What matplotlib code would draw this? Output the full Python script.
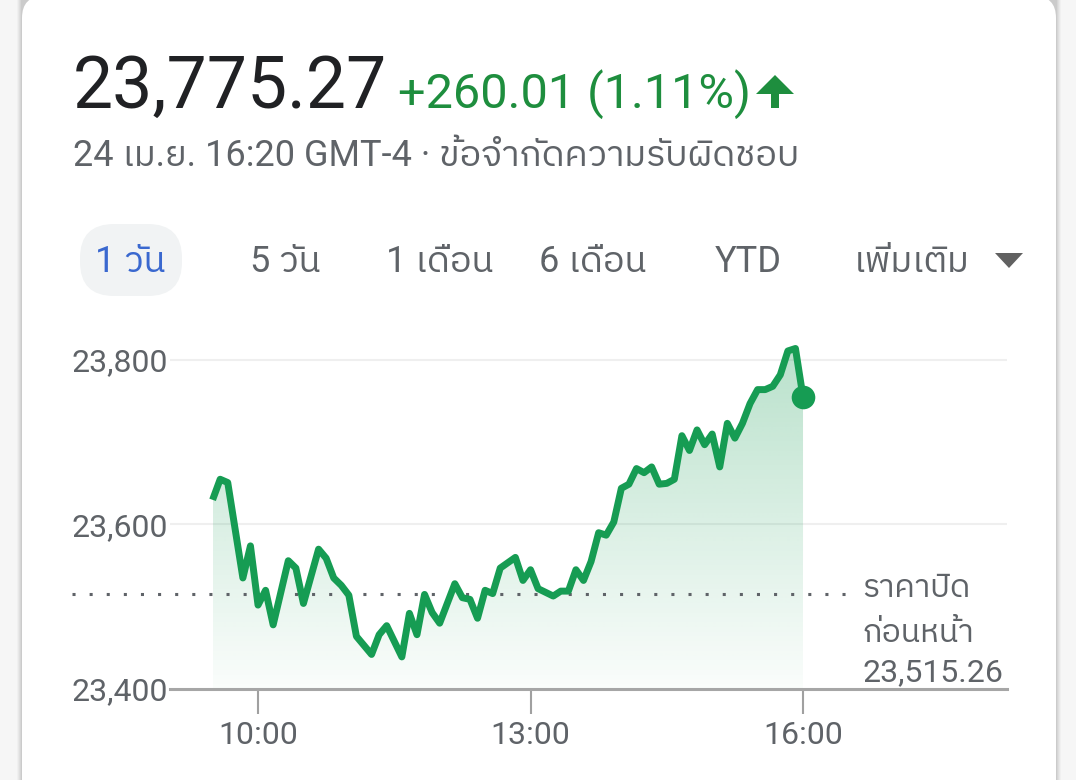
import numpy as np
import matplotlib
matplotlib.use("Agg")
import matplotlib.pyplot as plt
from matplotlib import font_manager
from matplotlib.ft2font import FT2Font
from matplotlib.patches import FancyBboxPatch, Polygon

# ---------------- data ----------------
times = ["09:30", "09:35", "09:40", "09:50", "09:55", "10:00", "10:05", "10:10",
         "10:20", "10:25", "10:30", "10:40", "10:45", "10:50", "10:55", "11:00",
         "11:05", "11:10", "11:15", "11:20", "11:25", "11:35", "11:40", "11:45",
         "11:50", "11:55", "12:00", "12:10", "12:15", "12:20", "12:25", "12:30",
         "12:35", "12:40", "12:50", "12:55", "13:00", "13:05", "13:15", "13:20",
         "13:25", "13:30", "13:35", "13:40", "13:45", "13:50", "13:55", "14:00",
         "14:05", "14:10", "14:15", "14:20", "14:25", "14:30", "14:35", "14:40",
         "14:45", "14:50", "14:55", "15:00", "15:05", "15:10", "15:15", "15:20",
         "15:25", "15:30", "15:35", "15:40", "15:45", "15:50", "15:55", "16:00"]
values = [23630, 23655, 23651, 23535, 23574, 23502, 23520, 23478,
          23556, 23547, 23504, 23570, 23559, 23535, 23526, 23514,
          23464, 23453, 23442, 23466, 23477, 23439, 23492, 23466,
          23515, 23493, 23480, 23528, 23511, 23509, 23486, 23520,
          23516, 23547, 23560, 23532, 23545, 23522, 23513, 23519,
          23519, 23545, 23532, 23555, 23590, 23587, 23603, 23644,
          23649, 23668, 23663, 23670, 23649, 23650, 23655, 23708,
          23690, 23715, 23697, 23710, 23670, 23723, 23705, 23723,
          23747, 23764, 23764, 23768, 23782, 23811, 23814, 23755]
prev_close = 23515.26

price_text = "23,775.27"
change_text = "+260.01 (1.11%)"
subtitle_text = "24 เม.ย. 16:20 GMT-4 · ข้อจำกัดความรับผิดชอบ"
tab_labels = ["1 วัน", "5 วัน", "1 เดือน", "6 เดือน", "YTD", "เพิ่มเติม"]
y_ticks = [23400, 23600, 23800]
y_tick_labels = ["23,400", "23,600", "23,800"]
x_tick_times = ["10:00", "13:00", "16:00"]
prev_label_lines = ["ราคาปิด", "ก่อนหน้า", "23,515.26"]

# ---------------- fonts ----------------
def thai_fonts():
    found = []
    for f in font_manager.fontManager.ttflist:
        try:
            ft = FT2Font(f.fname)
            if ft.get_char_index(0x0E01) and ft.get_char_index(0x0E34):
                if f.name not in found:
                    found.append(f.name)
        except Exception:
            pass
    found.sort(key=lambda n: (0 if "Thai" in n else 1, n))
    return found

FAMILY = ["Roboto"] + thai_fonts() + ["DejaVu Sans"]
plt.rcParams["font.family"] = FAMILY

GREEN_LINE = "#169c53"
GREEN_TEXT = "#1e8e3e"
GRAY_TEXT = "#5f6368"
DARK = "#202124"
BLUE = "#3a68cf"


def to_min(s):
    h, m = s.split(":")
    return int(h) * 60 + int(m) - 570


t = np.array([to_min(s) for s in times], dtype=float)
v = np.array(values, dtype=float)

W, H = 1076, 780
fig = plt.figure(figsize=(W / 100, H / 100), dpi=100)
fig.patch.set_facecolor("#f6f6f6")

# background pixel axes
bg = fig.add_axes([0, 0, 1, 1])
bg.set_xlim(0, W)
bg.set_ylim(H, 0)
bg.axis("off")

# card shadow + card
for i, a in enumerate([0.025, 0.03, 0.035, 0.04, 0.05]):
    g = 5 - i
    bg.add_patch(FancyBboxPatch((22 - g, -30), 1034 + 2 * g, 900,
                                boxstyle="round,pad=0,rounding_size=%d" % (22 + g),
                                fc="black", ec="none", alpha=a, zorder=0))
bg.add_patch(FancyBboxPatch((22, -4), 1034, 900,
                            boxstyle="round,pad=0,rounding_size=22",
                            fc="white", ec="none", zorder=1))

# header
bg.text(73, 108, price_text, fontsize=51.5, color=DARK, va="baseline", ha="left", zorder=3)
bg.text(398, 108, change_text, fontsize=35, color=GREEN_TEXT, va="baseline", ha="left", zorder=3)
bg.add_patch(Polygon([(756, 94), (775, 75), (794, 94), (779, 94), (779, 108),
                      (771, 108), (771, 94)], closed=True, fc=GREEN_TEXT, ec="none", zorder=3))
bg.text(73, 166, subtitle_text, fontsize=26, color=GRAY_TEXT, va="baseline", ha="left", zorder=3)

# tabs
bg.add_patch(FancyBboxPatch((80, 224), 102, 72, boxstyle="round,pad=0,rounding_size=34",
                            fc="#f1f3f4", ec="none", zorder=2))
tab_centers = [130, 285, 440, 593, 748, 912]
for i, (lab, cx) in enumerate(zip(tab_labels, tab_centers)):
    bg.text(cx, 272, lab, fontsize=26, color=BLUE if i == 0 else GRAY_TEXT,
            va="baseline", ha="center", zorder=3)
bg.add_patch(Polygon([(995, 253), (1023, 253), (1009, 268)], closed=True,
                     fc="#616161", ec="none", zorder=3))

# ---------------- chart axes ----------------
px_left, px_right, px_top, px_bot = 170, 1007, 330, 689
x0_px, min_px = 212.6, 272.5 / 180.0
y_px_per = 164.5 / 200.0
xlim = ((px_left - x0_px) / min_px, (px_right - x0_px) / min_px)
ylim = (23400, 23400 + (px_bot - px_top) / y_px_per)

ax = fig.add_axes([px_left / W, (H - px_bot) / H, (px_right - px_left) / W,
                   (px_bot - px_top) / H], zorder=5)
ax.set_facecolor("none")
ax.set_xlim(*xlim)
ax.set_ylim(*ylim)
for s in ax.spines.values():
    s.set_visible(False)

for yv in y_ticks[1:]:
    ax.axhline(yv, color="#efefef", lw=1.5, zorder=1)

# gradient fill under curve
poly_xy = np.vstack([np.column_stack([t, v]), [[t[-1], ylim[0]], [t[0], ylim[0]]]])
clip = Polygon(poly_xy, closed=True, fc="none", ec="none")
ax.add_patch(clip)
grad = np.linspace(0.02, 0.30, 256).reshape(-1, 1)
rgb = np.array(matplotlib.colors.to_rgb(GREEN_LINE))
img = np.zeros((256, 1, 4))
img[..., :3] = rgb
img[..., 3] = grad
im = ax.imshow(img, extent=[t[0], t[-1], ylim[0], v.max()], origin="lower",
               aspect="auto", interpolation="bilinear", zorder=2)
im.set_clip_path(clip)

# previous close dotted line
ax.axhline(prev_close, xmin=(72 - px_left) / (px_right - px_left),
           xmax=(852 - px_left) / (px_right - px_left), color="#5f6368",
           lw=2.2, dashes=(1, 4.6), clip_on=False, zorder=3)

# baseline
ax.axhline(ylim[0], color="#a6a6a6", lw=2.2, clip_on=False, zorder=4)

# price line and end dot
ax.plot(t, v, color=GREEN_LINE, lw=5.0, solid_joinstyle="round",
        solid_capstyle="butt", zorder=6)
ax.plot(t[-1], v[-1], "o", ms=17, color=GREEN_LINE, mec="none", zorder=7,
        clip_on=False)

# ticks
ax.set_xticks([to_min(s) for s in x_tick_times])
ax.set_xticklabels(x_tick_times)
ax.set_yticks(y_ticks)
ax.set_yticklabels(y_tick_labels)
ax.tick_params(axis="x", length=18, width=1.5, color="#a0a0a0", direction="out",
               pad=5, labelsize=23, labelcolor=GRAY_TEXT)
ax.tick_params(axis="y", length=0, pad=1.5, labelsize=23, labelcolor=GRAY_TEXT)

# previous close label
bg.text(862, 597, prev_label_lines[0], fontsize=23, color=GRAY_TEXT, va="baseline", ha="left", zorder=6)
bg.text(862, 642, prev_label_lines[1], fontsize=23, color=GRAY_TEXT, va="baseline", ha="left", zorder=6)
bg.text(863, 681, prev_label_lines[2], fontsize=23, color=GRAY_TEXT, va="baseline", ha="left", zorder=6)

fig.savefig("out.png", dpi=100, facecolor=fig.get_facecolor())
